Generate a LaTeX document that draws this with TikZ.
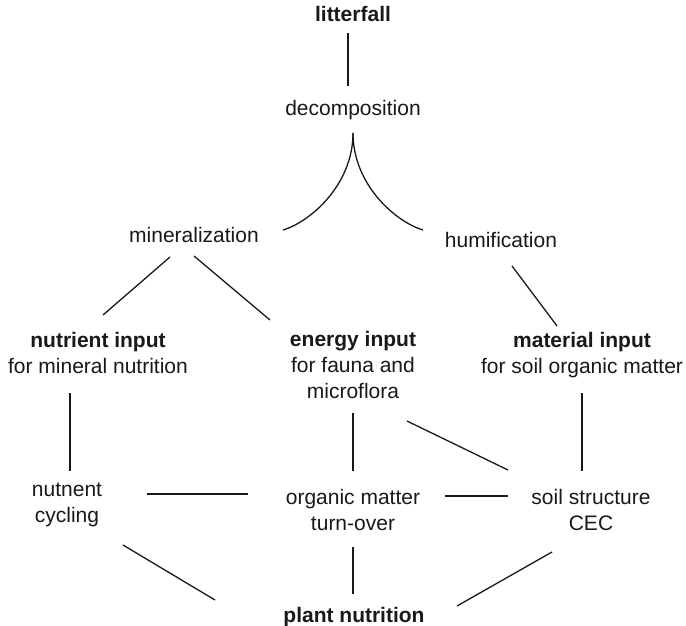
\documentclass[tikz,border=0pt]{standalone}
\usepackage{fontspec}
\setmainfont{Liberation Sans}
\usetikzlibrary{calc}
\tikzset{
  txt/.style={font={\fontsize{21}{26}\selectfont}, align=center, inner sep=0pt, anchor=base, text=black!90},
  conn/.style={line width=1.3pt, black!90},
}
\begin{document}
\begin{tikzpicture}[x=1pt,y=-1pt]
\fill[white] (0,0) rectangle (686,626);
\useasboundingbox (0,0) rectangle (686,626);

\node[txt] (lit) at (353,22) {\textbf{litterfall}};
\node[txt] (dec) at (353,116) {decomposition};
\node[txt] (min) at (194,242) {mineralization};
\node[txt] (hum) at (501,247) {humification};
\node[txt] (nut) at (98,373) {\textbf{nutrient input}\\for mineral nutrition};
\node[txt] (ene) at (353,398) {\textbf{energy input}\\for fauna and\\microflora};
\node[txt] (mat) at (582,373) {\textbf{material input}\\for soil organic matter};
\node[txt] (cyc) at (67,522) {nutnent\\cycling};
\node[txt] (org) at (353,530) {organic matter\\turn-over};
\node[txt] (soil) at (591,530) {soil structure\\CEC};
\node[txt] (pla) at (354,622) {\textbf{plant nutrition}};

\draw[conn] ($(lit.base)+(-5,11)$) -- ($(dec.base)+(-5,-30)$);
\draw[conn] ($(dec.base)+(0,17)$) .. controls +(0,52) and +(27,-8) .. ($(min.base)+(89,-12)$);
\draw[conn] ($(dec.base)+(0,17)$) .. controls +(0,52) and +(-27,-8) .. ($(hum.base)+(-78,-17)$);
\draw[conn] ($(min.base)+(-24,15)$) -- ($(nut.base)+(5,-58)$);
\draw[conn] ($(min.base)+(0,14)$) -- ($(ene.base)+(-83,-78)$);
\draw[conn] ($(hum.base)+(11,19)$) -- ($(mat.base)+(-25,-47)$);
\draw[conn] ($(nut.base)+(-28,20)$) -- ($(cyc.base)+(3,-51)$);
\draw[conn] ($(ene.base)+(0,15)$) -- ($(org.base)+(0,-59)$);
\draw[conn] ($(ene.base)+(54,23)$) -- ($(soil.base)+(-83,-60)$);
\draw[conn] ($(mat.base)+(0,20)$) -- ($(soil.base)+(-9,-59)$);
\draw[conn] ($(cyc.base)+(80,-28)$) -- ($(org.base)+(-105,-36)$);
\draw[conn] ($(org.base)+(92,-34)$) -- ($(soil.base)+(-83,-34)$);
\draw[conn] ($(cyc.base)+(56,23)$) -- ($(pla.base)+(-139,-22)$);
\draw[conn] ($(org.base)+(0,17)$) -- ($(pla.base)+(-1,-28)$);
\draw[conn] ($(soil.base)+(-39,22)$) -- ($(pla.base)+(103,-16)$);
\end{tikzpicture}
\end{document}
